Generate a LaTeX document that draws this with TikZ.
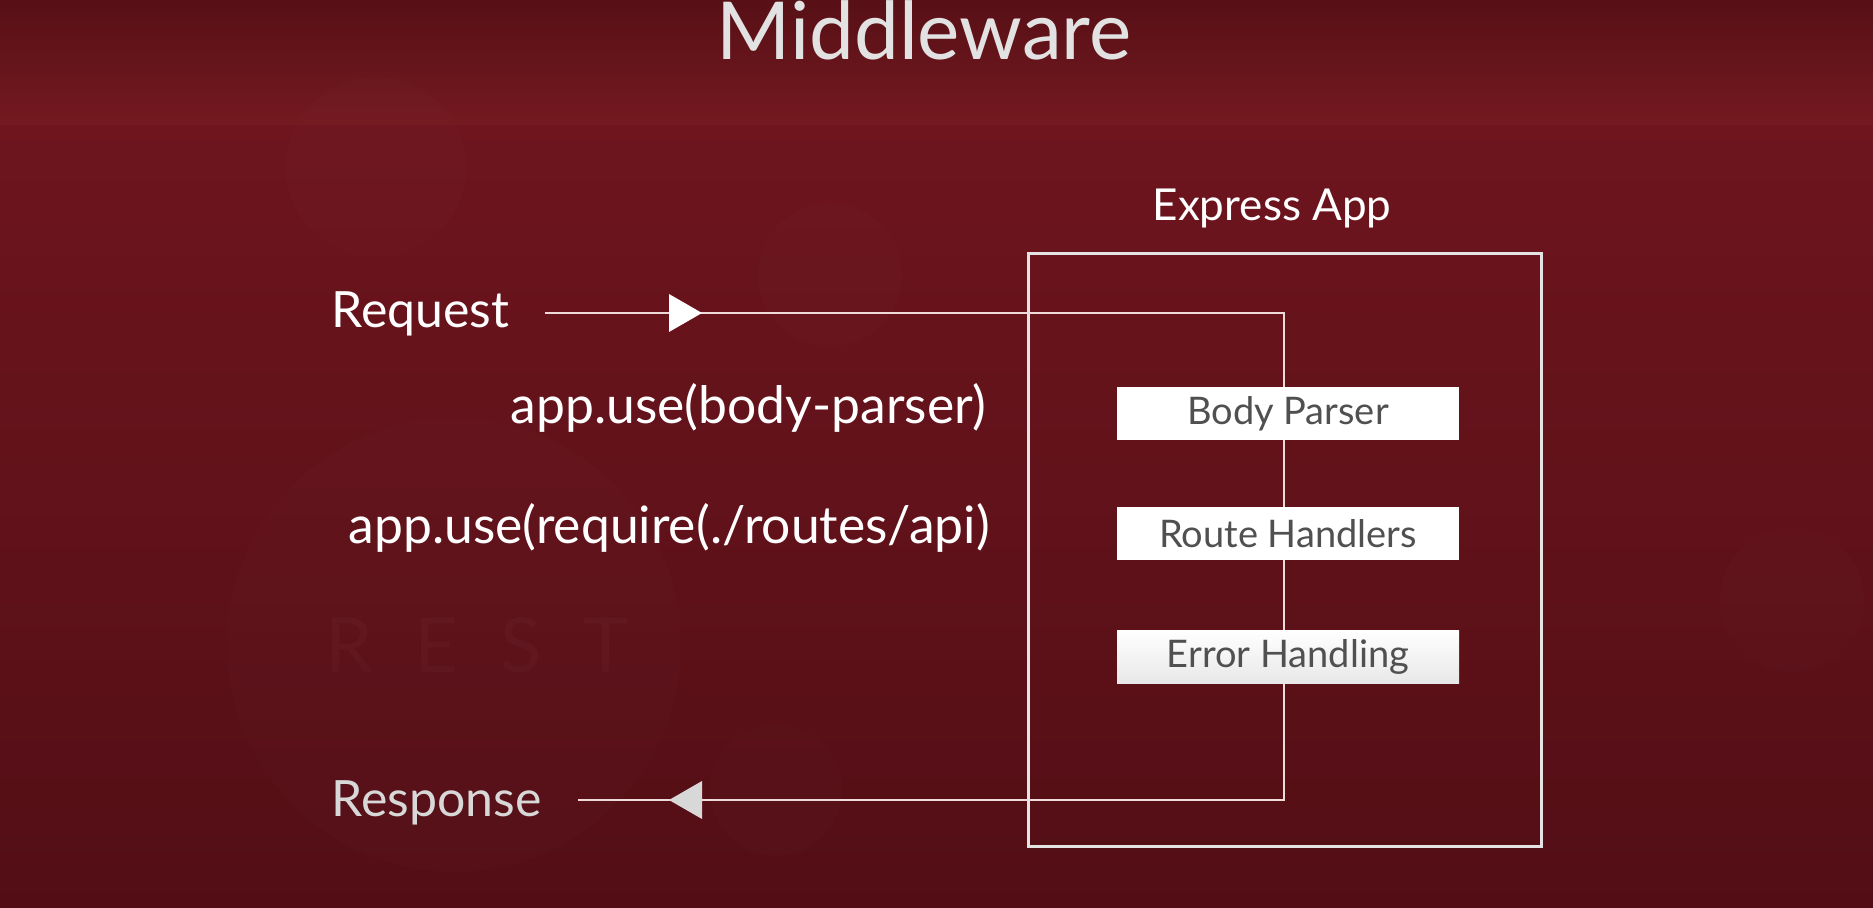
\documentclass[tikz,border=0pt]{standalone}
\usepackage{fontspec}
\setmainfont{Lato}
\definecolor{bgtop}{HTML}{6E151E}
\definecolor{bgbottom}{HTML}{530E15}
\definecolor{bandtop}{HTML}{571016}
\definecolor{bandbottom}{HTML}{741920}
\definecolor{flowline}{HTML}{EFDADA}
\definecolor{framecol}{HTML}{E4E4E4}
\definecolor{stagetext}{HTML}{505050}
\definecolor{softwhite}{HTML}{D8D8D8}
\definecolor{titlecol}{HTML}{E2E2E2}
\begin{document}
\begin{tikzpicture}[x=0.5pt,y=-0.5pt,
  caption/.style={text=white,inner sep=0pt,font=\fontsize{25}{30}\selectfont},
  codecaption/.style={caption,font=\fontsize{25.8}{30}\selectfont},
  stagebox/.style={fill=white,minimum width=171pt,minimum height=26.5pt,inner sep=0pt,
    text=stagetext,font=\fontsize{19}{23}\selectfont},
  flow/.style={draw=flowline,line width=1pt},
  ghost/.style={fill=white,fill opacity=0.012}]
\useasboundingbox (0,0) rectangle (1873,908);
% backdrop: dark red slide with a lighter header band
\shade[top color=bgtop,bottom color=bgbottom] (0,125) rectangle (1873,908);
\shade[top color=bandtop,bottom color=bandbottom] (0,0) rectangle (1873,125);
% faint watermark shapes
\fill[ghost] (376,167) circle (90);
\fill[ghost] (454,645) circle (227);
\fill[ghost] (776,790) circle (66);
\fill[ghost] (830,275) circle (72);
\fill[ghost] (1792,600) circle (72);
\node[anchor=base west,inner sep=0pt,text=white,text opacity=0.025,
  font=\fontsize{38}{40}\selectfont] (rest) at (325,672) {R\hspace{0.55em}E\hspace{0.55em}S\hspace{0.55em}T};
% title
\node[anchor=base,inner sep=0pt,text=titlecol,font=\fontsize{40}{48}\selectfont] (title) at (924,60) {Middleware};
% labels on the left
\node[caption,anchor=base west] (req) at (331,328) {Request};
\node[caption,anchor=base west,text=softwhite] (resp) at (331,816) {Response};
\node[codecaption,anchor=base east] (usebody) at (986,424) {app.use(body-parser)};
\node[codecaption,anchor=base east] (useroutes) at (990,544) {app.use(require(./routes/api)};
% application frame
\node[draw=framecol,line width=1.5pt,minimum width=256.5pt,minimum height=296pt,inner sep=0pt] (app) at (1284.5,550) {};
\node[anchor=base,inner sep=0pt,text=white,font=\fontsize{22}{26}\selectfont] (applabel) at (1272,221) {Express App};
% request / response path
\coordinate (reqstart) at (545,313);
\coordinate (turnA) at (1284,313);
\coordinate (turnB) at (1284,800);
\coordinate (respend) at (578,800);
\draw[flow] (reqstart) -- (turnA) -- (turnB) -- (respend);
\fill[white] (669,294) -- (702,313) -- (669,332) -- cycle;
\fill[softwhite] (702,781) -- (669,800) -- (702,819) -- cycle;
% middleware stages
\node[stagebox] (bp) at (1288,413.5) {Body Parser};
\node[stagebox] (rh) at (1288,534) {Route Handlers};
\node[stagebox,top color=white,bottom color=black!9] (eh) at (1288,656.5) {Error Handling};
\end{tikzpicture}
\end{document}
